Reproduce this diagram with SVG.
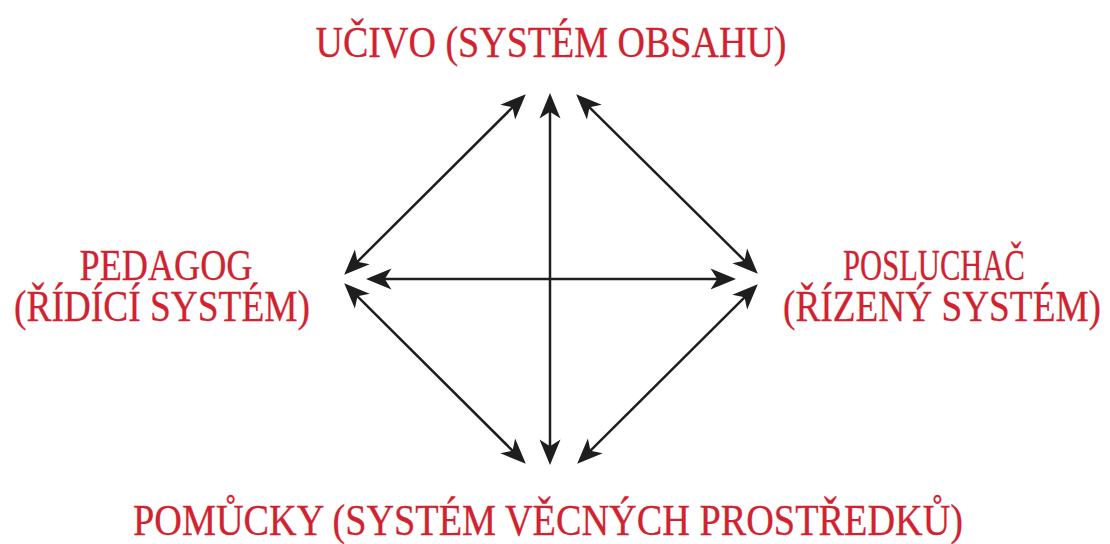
<svg xmlns="http://www.w3.org/2000/svg" width="1110" height="544" viewBox="0 0 1110 544">
  <style>
    .label { font-family: "Liberation Serif", "DejaVu Serif", serif; font-size: 44px; fill: #d1232f; stroke: #d1232f; stroke-width: 0.3; text-anchor: middle; }
    .link { stroke: #1e1e1e; stroke-width: 2.5; fill: none; marker-start: url(#head); marker-end: url(#head); }
  </style>
  <defs>
    <!-- barbed arrowhead; tip sits 8px beyond the line end -->
    <marker id="head" markerUnits="userSpaceOnUse" markerWidth="30" markerHeight="30" viewBox="-10 -10 20 20" refX="0" refY="0" orient="auto-start-reverse" overflow="visible">
      <path d="M8,0 L-9,-7 L-4.5,0 L-9,7 Z" fill="#1e1e1e"/>
    </marker>
  </defs>
  <rect width="1110" height="544" fill="#ffffff"/>

  <g id="connectors">
    <line class="link" x1="550" y1="105" x2="550" y2="453"/>
    <line class="link" x1="378" y1="279" x2="724" y2="279"/>
    <line class="link" x1="352.7" y1="266.4" x2="517.3" y2="102.6"/>
    <line class="link" x1="584.7" y1="102.6" x2="749.3" y2="265.4"/>
    <line class="link" x1="352.7" y1="291.6" x2="517.3" y2="455.4"/>
    <line class="link" x1="749.3" y1="292.6" x2="585.7" y2="455.4"/>
  </g>

  <g id="ucivo">
    <text class="label" x="551" y="57" textLength="471" lengthAdjust="spacingAndGlyphs">UČIVO (SYSTÉM OBSAHU)</text>
  </g>
  <g id="pedagog">
    <text class="label" x="166" y="280" textLength="173" lengthAdjust="spacingAndGlyphs">PEDAGOG</text>
    <text class="label" x="162" y="321" textLength="296" lengthAdjust="spacingAndGlyphs">(ŘÍDÍCÍ SYSTÉM)</text>
  </g>
  <g id="posluchac">
    <text class="label" x="934" y="280" textLength="182" lengthAdjust="spacingAndGlyphs">POSLUCHAČ</text>
    <text class="label" x="942" y="321" textLength="318" lengthAdjust="spacingAndGlyphs">(ŘÍZENÝ SYSTÉM)</text>
  </g>
  <g id="pomucky">
    <text class="label" x="548" y="535" textLength="830" lengthAdjust="spacingAndGlyphs">POMŮCKY (SYSTÉM VĚCNÝCH PROSTŘEDKŮ)</text>
  </g>
</svg>
